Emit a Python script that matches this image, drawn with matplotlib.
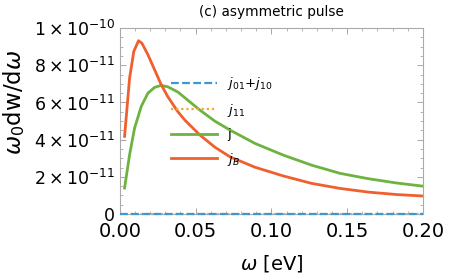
import matplotlib
matplotlib.use("Agg")
import matplotlib.pyplot as plt
from matplotlib.ticker import AutoMinorLocator

# Data (omega in eV; values in units of 1e-10)
w_B = [0.0031, 0.0064, 0.0092, 0.0123, 0.0145, 0.0185, 0.0229, 0.0273, 0.0317,
       0.0383, 0.0429, 0.0528, 0.0626, 0.0726, 0.0891, 0.1078, 0.1265, 0.1452,
       0.164, 0.1826, 0.2]
jB = [0.418, 0.731, 0.875, 0.932, 0.919, 0.857, 0.776, 0.695, 0.63,
      0.55, 0.505, 0.425, 0.36, 0.308, 0.252, 0.205, 0.165, 0.138,
      0.118, 0.105, 0.097]

w_j = [0.0031, 0.0064, 0.0097, 0.0141, 0.0185, 0.0229, 0.0273, 0.0317, 0.0383,
       0.0528, 0.0626, 0.0726, 0.0891, 0.1078, 0.1265, 0.1452, 0.164, 0.1826, 0.2]
jt = [0.14, 0.319, 0.462, 0.579, 0.65, 0.681, 0.692, 0.684, 0.656,
      0.559, 0.5, 0.452, 0.38, 0.317, 0.263, 0.219, 0.19, 0.167, 0.15]

w_flat = [0.0, 0.2]
j0110 = [0.0, 0.0]
j11 = [0.0, 0.0]

scale = 1e-10
yticks = [0, 2e-11, 4e-11, 6e-11, 8e-11, 1e-10]
yticklabels = ["0", r"$2\times10^{-11}$", r"$4\times10^{-11}$", r"$6\times10^{-11}$",
               r"$8\times10^{-11}$", r"$1\times10^{-10}$"]
xticks = [0.0, 0.05, 0.10, 0.15, 0.20]
xticklabels = ["0.00", "0.05", "0.10", "0.15", "0.20"]

fig = plt.figure(figsize=(4.49, 2.78), dpi=100)
ax = fig.add_axes([0.267, 0.230, 0.675, 0.669])

c_blue = "#3d97d6"
c_orange = "#f2a633"
c_green = "#6db33f"
c_red = "#f0602e"

ax.plot(w_flat, [v * scale for v in j0110], color=c_blue, ls=(0, (3.5, 1.5)), lw=1.6,
        label=r"$j_{01}$+$j_{10}$", clip_on=False, zorder=3)
ax.plot(w_flat, [v * scale for v in j11], color=c_orange, ls=(0, (1, 1.3)), lw=1.6,
        label=r"$j_{11}$", clip_on=False, zorder=2)
ax.plot(w_j, [v * scale for v in jt], color=c_green, lw=2.0, label="j")
ax.plot(w_B, [v * scale for v in jB], color=c_red, lw=2.0, label=r"$j_B$")

ax.set_xlim(0, 0.2)
ax.set_ylim(0, 1e-10)
ax.set_xticks(xticks)
ax.set_xticklabels(xticklabels)
ax.set_yticks(yticks)
ax.set_yticklabels(yticklabels)
ax.xaxis.set_minor_locator(AutoMinorLocator(5))
ax.yaxis.set_minor_locator(AutoMinorLocator(4))
ax.tick_params(which="both", direction="in", top=True, right=True, color="#999999")
ax.tick_params(which="major", length=4, width=0.6, labelsize=12.5, pad=3.5)
ax.tick_params(which="minor", length=2, width=0.5)
ax.tick_params(axis="x", labelsize=14, pad=6)
for s in ax.spines.values():
    s.set_color("#aaaaaa")
    s.set_linewidth(0.8)

ax.set_xlabel(r"$\omega$ [eV]", fontsize=14, labelpad=8)
ax.set_ylabel(r"$\omega_0$dw/d$\omega$", fontsize=16.5)
ax.yaxis.set_label_coords(-0.305, 0.60)
ax.set_title("(c) asymmetric pulse", fontsize=9.8, pad=9)

leg = ax.legend(loc="upper left", bbox_to_anchor=(0.15, 0.775), frameon=False,
                handlelength=3.55, labelspacing=0.72, fontsize=9.5, handletextpad=0.75,
                borderaxespad=0)

fig.savefig("out.png", dpi=100)
